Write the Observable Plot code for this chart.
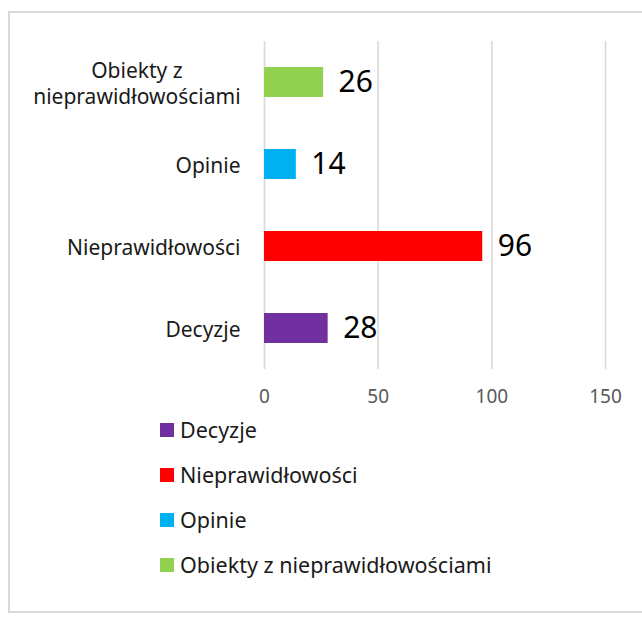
<!DOCTYPE html>
<html>
<head>
<meta charset="utf-8">
<script src="https://cdn.jsdelivr.net/npm/d3@7"></script>
<script src="https://cdn.jsdelivr.net/npm/@observablehq/plot@0.6"></script>
<style>
  html, body { margin: 0; padding: 0; background: #fff; }
  body { width: 642px; height: 625px; position: relative; overflow: hidden; font-family: "Noto Sans", sans-serif; }
  #frame { position: absolute; left: 8px; top: 11px; width: 700px; height: 602px; border: 2px solid #d9d9d9; box-sizing: border-box; }
  #chart { position: absolute; left: 0; top: 0; }
  #legend { position: absolute; left: 160px; top: 407px; }
  .item { height: 45px; display: flex; align-items: center; font-size: 21.5px; color: #1a1a1a; }
  .sw { width: 14px; height: 14px; margin-right: 6px; }
</style>
</head>
<body>
<div id="frame"></div>
<div id="chart"></div>
<div id="legend"></div>
<script>
const categories = ["Obiekty z\nnieprawidłowościami", "Opinie", "Nieprawidłowości", "Decyzje"];
const values = [26, 14, 96, 28];
const colors = ["#92D050", "#00B0F0", "#FF0000", "#7030A0"];
const legendLabels = ["Decyzje", "Nieprawidłowości", "Opinie", "Obiekty z nieprawidłowościami"];
const legendColors = ["#7030A0", "#FF0000", "#00B0F0", "#92D050"];
const xTicks = [0, 50, 100, 150];

const data = categories.map((c, i) => ({cat: c, value: values[i], color: colors[i]}));

const plot = Plot.plot({
  width: 642,
  height: 419,
  marginTop: 41,
  marginBottom: 50,
  marginLeft: 264,
  marginRight: 37,
  style: {fontFamily: "Noto Sans, sans-serif", background: "transparent"},
  x: {domain: [0, 150], label: null},
  y: {domain: categories, paddingInner: 0.64, paddingOuter: 0.32, label: null},
  marks: [
    Plot.gridX(xTicks, {stroke: "#d9d9d9", strokeOpacity: 1, strokeWidth: 1.6}),
    Plot.barX(data, {x: "value", y: "cat", fill: "color"}),
    Plot.text(data, {x: "value", y: "cat", text: d => String(d.value), textAnchor: "start", dx: 15, fontSize: 30, fill: "#000"}),
    Plot.axisX(xTicks, {tickSize: 0, tickPadding: 20, fontSize: 19, fill: "#595959", label: null}),
    Plot.axisY({tickSize: 0, tickPadding: 24, fontSize: 21, fill: "#1a1a1a", lineHeight: 1.24, label: null})
  ]
});
document.getElementById("chart").appendChild(plot);

// center lines of multi-line category labels relative to each other
plot.querySelectorAll("text").forEach(t => {
  const spans = t.querySelectorAll("tspan");
  if (spans.length > 1) {
    const bb = t.getBBox();
    const cx = bb.x + bb.width / 2;
    const tr = t.getAttribute("transform") || "";
    const m = tr.match(/translate\(([-\d.e]+),\s*([-\d.e]+)\)/);
    t.setAttribute("text-anchor", "middle");
    if (m) {
      t.setAttribute("transform", `translate(${parseFloat(m[1]) + cx},${m[2]})`);
    } else {
      const x0 = parseFloat(t.getAttribute("x") || 0);
      t.setAttribute("x", x0 + cx);
    }
  }
});

const legend = document.getElementById("legend");
legendLabels.forEach((l, i) => {
  const div = document.createElement("div");
  div.className = "item";
  div.innerHTML = `<div class="sw" style="background:${legendColors[i]}"></div><span>${l}</span>`;
  legend.appendChild(div);
});
</script>
</body>
</html>
